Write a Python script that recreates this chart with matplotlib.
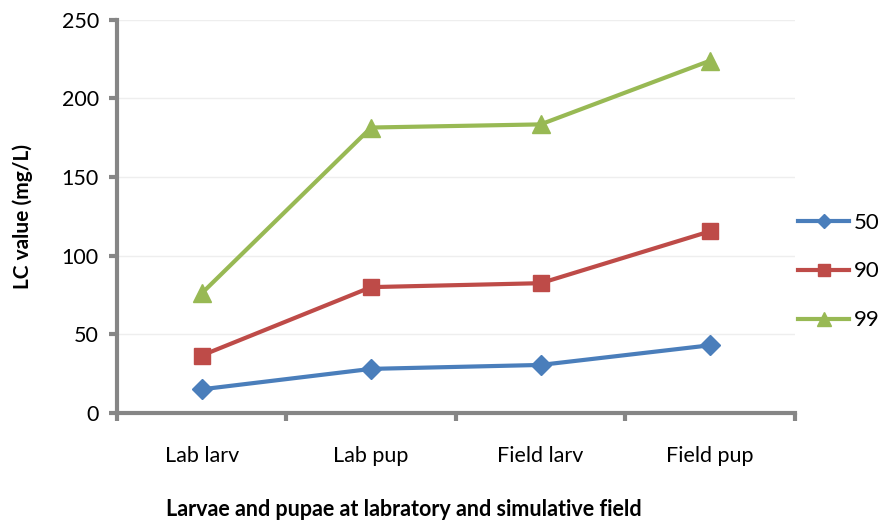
import matplotlib.pyplot as plt
from matplotlib.lines import Line2D

# 幼虫・蛹ごとのLC値
stages = ['Lab larv', 'Lab pup', 'Field larv', 'Field pup']
lc50 = [15, 28, 30.5, 43]
lc90 = [36.5, 80, 82.5, 115.5]
lc99 = [76, 181.5, 183.5, 224]

series = [('50', lc50, '#4a7ebb', 'D', 10),
          ('90', lc90, '#be4b48', 's', 12),
          ('99', lc99, '#98b954', '^', 13)]

plt.rcParams['font.family'] = ['Lato', 'DejaVu Sans']
fig = plt.figure(figsize=(8.86, 5.22), dpi=100)
ax = fig.add_axes([0.132, 0.209, 0.765, 0.753])

x = range(len(stages))
handles = []
for name, vals, col, mk, ms in series:
    ax.plot(x, vals, color=col, lw=3, marker=mk, ms=ms, zorder=3)
    handles.append(Line2D([], [], color=col, lw=3, marker=mk, ms=ms * 0.75))

ax.set_xlim(-0.5, len(stages) - 0.5)
ax.set_ylim(0, 250)
ax.set_yticks(range(0, 251, 50))
ax.set_xticks(x)
ax.set_xticklabels(stages)
ax.set_xticks([i - 0.5 for i in range(len(stages) + 1)], minor=True)

# Excel風の軸
for s in ['top', 'right']:
    ax.spines[s].set_visible(False)
for s in ['left', 'bottom']:
    ax.spines[s].set_color('#868686')
    ax.spines[s].set_linewidth(3)
ax.tick_params(axis='y', length=6, width=3, color='#868686', labelsize=15.5, pad=7)
ax.tick_params(axis='x', which='major', length=0, labelsize=15.5, pad=24)
ax.tick_params(axis='x', which='minor', length=6, width=3, color='#868686')
ax.yaxis.grid(True, color='#eeeeee', lw=1)
ax.set_axisbelow(True)

ax.set_ylabel('LC value (mg/L)', fontsize=15, fontweight='bold')
ax.yaxis.set_label_coords(-0.124, 0.5)
ax.set_xlabel('Larvae and pupae at labratory and simulative field',
              fontsize=15.5, fontweight='bold')
ax.xaxis.set_label_coords(0.4226, -0.22)

fig.legend(handles, [s[0] for s in series], loc='center left',
           bbox_to_anchor=(0.9007, 0.48), frameon=False, fontsize=16,
           borderpad=0, borderaxespad=0,
           handlelength=2.3, handletextpad=0.2, labelspacing=1.3)

fig.savefig('out.png')
